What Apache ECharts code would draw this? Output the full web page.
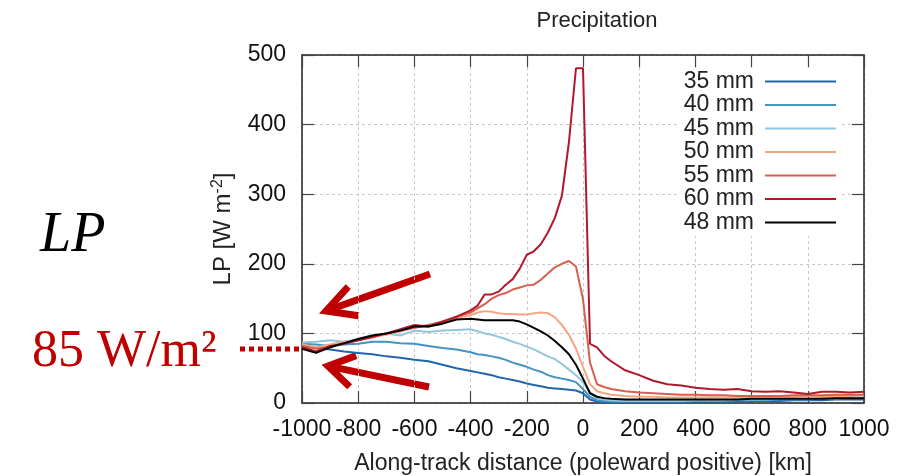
<!DOCTYPE html>
<html><head><meta charset="utf-8">
<script src="https://cdn.jsdelivr.net/npm/echarts@6/dist/echarts.min.js"></script>
<style>html,body{margin:0;padding:0;background:#fff}#c{width:897px;height:476px}</style>
</head><body><div id="c"></div>
<script>
// Along-track distance (km)
var distance = [-1000,-950,-900,-850,-800,-750,-700,-650,-600,-550,-500,-450,-400,
  -375,-350,-325,-300,-275,-250,-225,-200,-175,-150,-125,-100,-75,-50,-25,0,25,50,75,100,
  150,200,250,300,350,400,450,500,550,600,650,700,750,800,850,900,950,1000];

var lp35 = [82,79,77,74,72,70,67,65,62,60,55,50,46,
  44,42,40,37,35,33,31,28,26,24,22,21,20,19,18,14,5,2,1,1,
  1,1,1,1,1,2,2,2,2,3,3,3,4,4,4,5,5,5];
var lp40 = [85,84,82,84,85,88,88,86,85,82,79,77,73,
  70,69,67,65,62,58,55,52,48,45,40,37,35,33,30,20,9,4,3,2,
  2,2,2,2,2,3,3,3,4,4,4,5,5,5,6,6,7,7];
var lp45 = [87,88,90,88,92,97,100,97,104,102,104,105,106,
  103,100,98,95,92,88,85,81,77,72,67,63,56,48,40,30,15,7,5,4,
  3,3,3,3,3,4,4,4,5,5,5,6,6,6,7,7,8,8];
var lp50 = [84,80,84,88,90,95,98,103,108,112,117,122,126,
  130,132,131,129,128,128,127,127,129,130,129,123,112,98,78,52,27,17,14,12,
  10,9,9,8,8,8,8,8,8,9,9,9,9,10,10,10,10,11];
var lp55 = [82,78,80,86,90,94,100,104,108,112,116,124,130,
  136,142,150,155,158,163,166,169,170,177,186,195,200,204,196,149,58,27,23,20,
  17,15,14,13,12,12,11,11,10,10,10,10,11,11,11,12,12,12];
var lp60 = [80,74,82,85,90,95,100,106,112,110,117,124,133,
  140,156,156,160,170,178,193,213,218,228,245,266,298,375,481,481,85,80,68,60,
  47,40,32,27,25,22,20,19,20,17,16,17,15,13,16,16,15,16];
var lp48 = [78,72,80,86,92,97,100,104,110,110,114,120,121,
  120,119,119,119,119,119,117,113,108,103,97,89,80,70,55,35,14,9,7,6,
  5,5,5,5,5,5,5,5,5,6,6,6,6,6,6,7,7,7];

var seriesNames = ['35 mm','40 mm','45 mm','50 mm','55 mm','60 mm','48 mm'];
var seriesValues = [lp35, lp40, lp45, lp50, lp55, lp60, lp48];
var seriesColors = ['#2166ac','#4393c3','#92c5de','#f4a582','#d6604d','#b2182b','#000000'];

var xTicks = {min:-1000, max:1000, interval:200};
var yTicks = {min:0, max:500, interval:100};

var FONT = '"Liberation Sans", Arial, sans-serif';
var SERIF = '"Liberation Serif", "Times New Roman", serif';
var RED = '#c00000';

var chart = echarts.init(document.getElementById('c'), null, {renderer:'canvas'});

function pairs(vals){ return distance.map(function(d,i){ return [d, vals[i]]; }); }

var series = seriesNames.map(function(n,i){
  return {name:n, type:'line', data:pairs(seriesValues[i]), symbol:'none', smooth:false,
    lineStyle:{color:seriesColors[i], width:2}, itemStyle:{color:seriesColors[i]}, z: (i===6?5:2)};
});

function arrow(tail, tip, wingAngle, wingLen){
  var dx = tail[0]-tip[0], dy = tail[1]-tip[1];
  var a = Math.atan2(dy, dx), r = wingAngle*Math.PI/180;
  var w1 = [tip[0]+wingLen*Math.cos(a-r), tip[1]+wingLen*Math.sin(a-r)];
  var w2 = [tip[0]+wingLen*Math.cos(a+r), tip[1]+wingLen*Math.sin(a+r)];
  var st = {stroke:RED, lineWidth:7, fill:null, lineJoin:'miter', lineCap:'butt'};
  return [
    {type:'polyline', shape:{points:[tail,[tip[0]+4*Math.cos(a),tip[1]+4*Math.sin(a)]]}, style:st},
    {type:'polyline', shape:{points:[w1,tip,w2]}, style:st}
  ];
}

var graphics = [
  {type:'text', left:40, top:208, style:{text:'LP', font:'italic 56px '+SERIF, fill:'#000'}},
  {type:'text', left:32, top:326, style:{text:'85 W/m²', font:'52px '+SERIF, fill:RED}},
  {type:'line', shape:{x1:240,y1:349,x2:302,y2:349}, style:{stroke:RED, lineWidth:5, lineDash:[5,4]}}
].concat(arrow([430,274],[326,311],28,33)).concat(arrow([429,387],[328,366],32,30));

var axisLineStyle = {color:'#222', width:1.5};
var splitStyle = {show:true, lineStyle:{color:'#c8c8c8', type:[3,3], width:1}};
function plain(v){ return String(v); }

var option = {
  animation:false,
  backgroundColor:'#fff',
  title:{text:'Precipitation', left:592, top:5, textAlign:'center',
    textStyle:{fontFamily:FONT, fontSize:22, fontWeight:'normal', color:'#222'}},
  legend:{orient:'vertical', right:57, top:68, align:'right', icon:'rect',
    itemWidth:71, itemHeight:2, itemGap:0.5, padding:[2,4,2,4], backgroundColor:'#fff',
    textStyle:{fontFamily:FONT, fontSize:23, color:'#222', padding:[0,6,0,0]},
    data:seriesNames},
  grid:{left:302, top:55, right:33, bottom:73, containLabel:false, outerBoundsMode:'none'},
  xAxis:[{type:'value', min:xTicks.min, max:xTicks.max, interval:xTicks.interval,
    name:'Along-track distance (poleward positive) [km]', nameLocation:'middle', nameGap:49,
    nameTextStyle:{fontFamily:FONT, fontSize:23, color:'#222'},
    axisLine:{show:true, onZero:false, lineStyle:axisLineStyle},
    axisTick:{show:true, inside:true, length:12, lineStyle:{color:'#444', width:1.2}},
    axisLabel:{fontFamily:FONT, fontSize:23, color:'#111', margin:15, formatter:plain},
    splitLine:splitStyle},
   {type:'value', position:'top', min:xTicks.min, max:xTicks.max, interval:xTicks.interval,
    axisLine:{show:true, onZero:false, lineStyle:axisLineStyle},
    axisTick:{show:true, inside:true, length:12, lineStyle:{color:'#444', width:1.2}},
    axisLabel:{show:false}, splitLine:{show:false}}],
  yAxis:[{type:'value', min:yTicks.min, max:yTicks.max, interval:yTicks.interval,
    name:'{n|LP [W m}{s|-2}{n|]}', nameLocation:'middle', nameGap:66, nameRotate:90,
    nameTextStyle:{rich:{n:{fontFamily:FONT, fontSize:24, color:'#222'}, s:{fontFamily:FONT, fontSize:16, color:'#222', verticalAlign:'top', padding:[0,0,10,0]}}},
    axisLine:{show:true, onZero:false, lineStyle:axisLineStyle},
    axisTick:{show:true, inside:true, length:12, lineStyle:{color:'#444', width:1.2}},
    axisLabel:{fontFamily:FONT, fontSize:23, color:'#111', margin:16, formatter:plain},
    splitLine:splitStyle},
   {type:'value', position:'right', min:yTicks.min, max:yTicks.max, interval:yTicks.interval,
    axisLine:{show:true, onZero:false, lineStyle:axisLineStyle},
    axisTick:{show:true, inside:true, length:12, lineStyle:{color:'#444', width:1.2}},
    axisLabel:{show:false}, splitLine:{show:false}}],
  series:series,
  graphic:graphics
};
chart.setOption(option);
</script></body></html>
